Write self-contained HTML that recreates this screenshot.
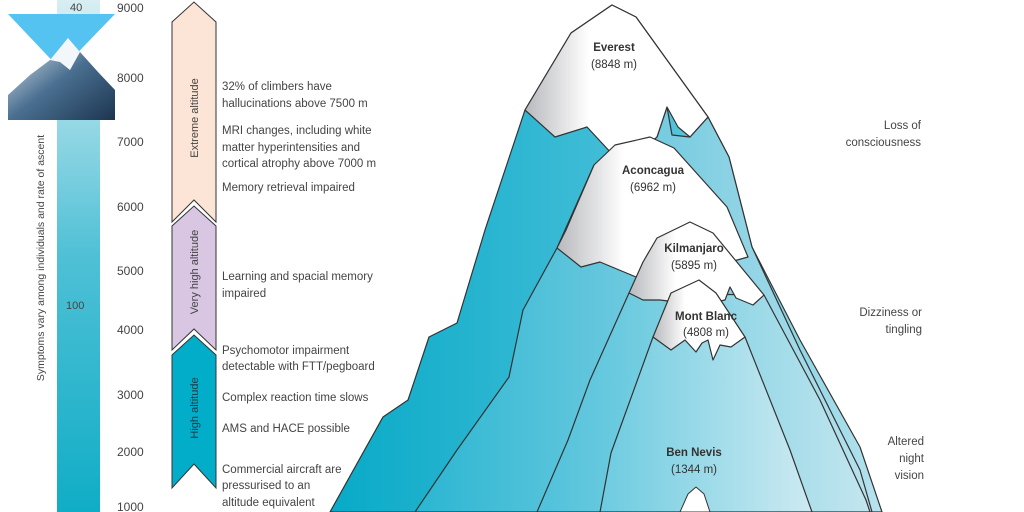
<!DOCTYPE html>
<html><head><meta charset="utf-8"><style>
body{margin:0;background:#fff;}
svg{display:block;font-family:"Liberation Sans",sans-serif;}
</style></head><body>
<svg width="1024" height="512" viewBox="0 0 1024 512" xmlns="http://www.w3.org/2000/svg">
<defs>
<linearGradient id="bar" x1="0" y1="0" x2="0" y2="1">
<stop offset="0" stop-color="#d8eef3"/><stop offset="0.5" stop-color="#4fc0d6"/><stop offset="1" stop-color="#10adc6"/></linearGradient>
<linearGradient id="m1" x1="0" y1="0" x2="1" y2="0"><stop offset="0" stop-color="#08aac7"/><stop offset="0.6" stop-color="#4cc0da"/><stop offset="1" stop-color="#b9e3ee"/></linearGradient>
<linearGradient id="m2" x1="0" y1="0" x2="1" y2="0"><stop offset="0" stop-color="#2ab6d2"/><stop offset="0.6" stop-color="#7fcee2"/><stop offset="1" stop-color="#b9e2ed"/></linearGradient>
<linearGradient id="m3" x1="0" y1="0" x2="1" y2="0"><stop offset="0" stop-color="#4ec1da"/><stop offset="1" stop-color="#c3e6ef"/></linearGradient>
<linearGradient id="m4" x1="0" y1="0" x2="1" y2="0"><stop offset="0" stop-color="#6ccbe0"/><stop offset="1" stop-color="#cdeaf2"/></linearGradient>
<linearGradient id="snow" x1="0" y1="0" x2="1" y2="0"><stop offset="0" stop-color="#b8b9bd"/><stop offset="0.35" stop-color="#fff"/><stop offset="1" stop-color="#fff"/></linearGradient>
<linearGradient id="mtn" x1="0" y1="0" x2="1" y2="1"><stop offset="0" stop-color="#e9f0f5"/><stop offset="0.5" stop-color="#4a6f90"/><stop offset="1" stop-color="#1c3550"/></linearGradient>
</defs>
<rect x="57" y="0" width="43" height="512" fill="url(#bar)"/>
<text x="70" y="11" font-size="11" fill="#444">40</text>
<text x="66" y="309" font-size="11" fill="#444">100</text>
<text transform="translate(44,258) rotate(-90)" text-anchor="middle" font-size="10.5" fill="#444">Symptoms vary among individuals and rate of ascent</text>
<rect x="8" y="14" width="107" height="106" fill="#fff"/>
<polygon points="8,14 115,14 61,70" fill="#55c3f2"/>
<polygon points="8,120 8,95 30,75 50,60 68,38 80,52 98,72 115,90 115,120" fill="url(#mtn)"/>
<polygon points="50,60 68,38 80,52 70,70 60,62" fill="#f4f7fa"/>
<g font-size="12" fill="#444">
<text x="117" y="12">9000</text><text x="117" y="82">8000</text><text x="117" y="146">7000</text><text x="117" y="211">6000</text><text x="117" y="275">5000</text><text x="117" y="334">4000</text><text x="117" y="399">3000</text><text x="117" y="456">2000</text><text x="117" y="511">1000</text>
</g>
<polygon points="172,22 194,2 216,22 216,222 194,200 172,222" fill="#fce4d6" stroke="#333" stroke-width="1"/>
<polygon points="172,226 194,206 216,226 216,350 194,329 172,350" fill="#d9c6e3" stroke="#333" stroke-width="1"/>
<polygon points="172,355 194,335 216,355 216,488 194,464 172,488" fill="#01adc8" stroke="#333" stroke-width="1"/>
<g font-size="11" fill="#444" text-anchor="middle">
<text transform="translate(198,118) rotate(-90)">Extreme altitude</text>
<text transform="translate(198,272) rotate(-90)">Very high altitude</text>
<text transform="translate(198,408) rotate(-90)" fill="#1a3a44">High altitude</text>
</g>
<g font-size="11.5" fill="#444">
<text x="222" y="90">32% of climbers have</text><text x="222" y="107">hallucinations above 7500 m</text>
<text x="222" y="134">MRI changes, including white</text><text x="222" y="151">matter hyperintensities and</text><text x="222" y="167">cortical atrophy above 7000 m</text>
<text x="222" y="191">Memory retrieval impaired</text>
<text x="222" y="280">Learning and spacial memory</text><text x="222" y="297">impaired</text>
<text x="222" y="354">Psychomotor impairment</text><text x="222" y="370">detectable with FTT/pegboard</text>
<text x="222" y="401">Complex reaction time slows</text>
<text x="222" y="432">AMS and HACE possible</text>
<text x="222" y="473">Commercial aircraft are</text><text x="222" y="489">pressurised to an</text><text x="222" y="506">altitude equivalent</text>
</g>
<g font-size="11.5" fill="#444" text-anchor="end">
<text x="921" y="129">Loss of</text><text x="921" y="146">consciousness</text>
<text x="922" y="316">Dizziness or</text><text x="922" y="333">tingling</text>
<text x="924" y="445">Altered</text><text x="924" y="462">night</text><text x="924" y="479">vision</text>
</g>
<g stroke="#333" stroke-width="1.2" stroke-linejoin="round">
<polygon points="330,512 383,417 408,400 429,337 457,323 485,230 525,110 571,33 612,5 636,17 708,117 729,157 752,247 800,340 860,447 882,512" fill="url(#m1)"/>
<polygon points="415,512 457,450 509,377 523,310 557,248 594,165 613,155 627,132 632,150 657,137 667,107 672,135 690,137 708,117 729,157 752,247 800,350 860,470 872,512" fill="url(#m2)"/>
<polygon points="537,512 568,440 590,380 629,293 764,295 820,400 866,500 870,512" fill="url(#m3)"/>
<polygon points="600,512 611,453 653,337 745,337 790,450 812,512" fill="url(#m4)"/>
<polygon points="525,110 571,33 612,5 636,17 708,117 690,137 678,127 667,107 657,137 630,160 613,155 587,127 555,137" fill="url(#snow)"/>
<polygon points="557,248 566,230 594,165 615,145 650,137 674,148 727,207 748,257 730,262 700,268 670,278 636,277 600,262 581,267" fill="url(#snow)"/>
<polygon points="629,293 643,262 657,238 690,222 713,233 764,295 753,305 736,298 730,287 725,300 700,305 660,300 643,300" fill="url(#snow)"/>
<polygon points="653,337 671,293 699,280 716,293 745,337 731,347 720,345 713,360 708,340 702,343 696,352 685,340 671,350" fill="url(#snow)"/>
<polygon points="680,512 688,494 696,487 704,494 710,512" fill="#fff" stroke-width="1"/>
</g>
<g font-size="11.5" fill="#333" text-anchor="middle">
<text x="614" y="51" font-weight="bold">Everest</text><text x="614" y="68">(8848 m)</text>
<text x="653" y="174" font-weight="bold">Aconcagua</text><text x="653" y="191">(6962 m)</text>
<text x="694" y="252" font-weight="bold">Kilmanjaro</text><text x="694" y="269">(5895 m)</text>
<text x="706" y="320" font-weight="bold">Mont Blanc</text><text x="706" y="336">(4808 m)</text>
<text x="694" y="456" font-weight="bold">Ben Nevis</text><text x="694" y="473">(1344 m)</text>
</g>
</svg>
</body></html>
